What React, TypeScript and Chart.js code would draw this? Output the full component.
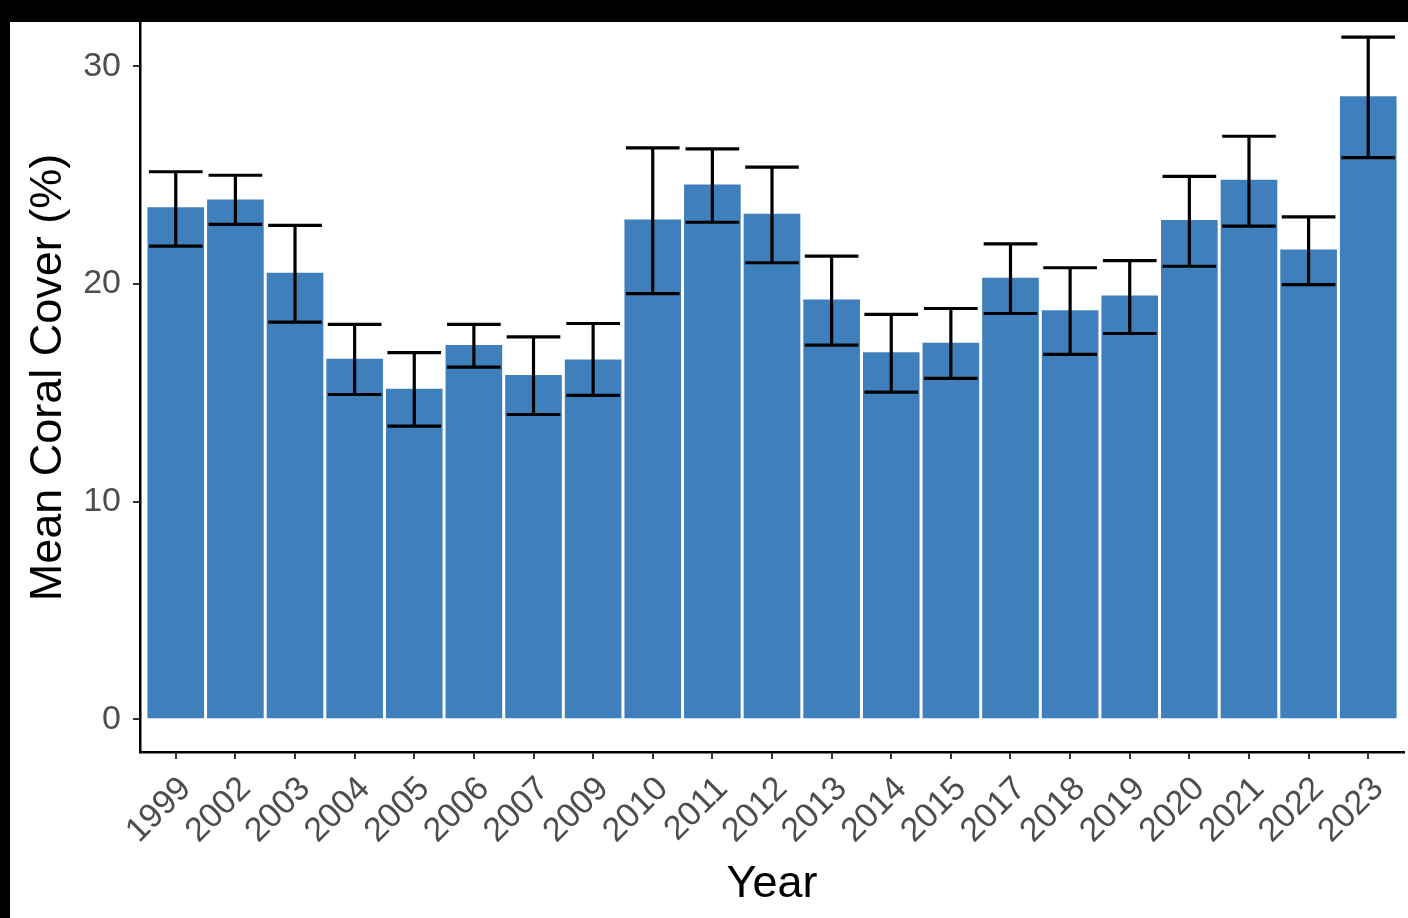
import { useEffect, useRef } from "react";
import { Chart, registerables } from "chart.js";

Chart.register(...registerables);

const years = [
  "1999", "2002", "2003", "2004", "2005", "2006", "2007", "2009", "2010", "2011",
  "2012", "2013", "2014", "2015", "2017", "2018", "2019", "2020", "2021", "2022", "2023",
];
const meanCover = [
  23.52, 23.88, 20.51, 16.56, 15.18, 17.19, 15.81, 16.53, 22.96, 24.56,
  23.22, 19.28, 16.86, 17.3, 20.28, 18.79, 19.47, 22.93, 24.78, 21.58, 28.62,
];
const lowerCI = [
  21.73, 22.73, 18.24, 14.92, 13.47, 16.18, 14.0, 14.88, 19.55, 22.83,
  20.97, 17.19, 15.03, 15.66, 18.64, 16.76, 17.72, 20.81, 22.65, 19.97, 25.8,
];
const upperCI = [
  25.15, 24.99, 22.69, 18.14, 16.84, 18.14, 17.57, 18.18, 26.25, 26.2,
  25.36, 21.27, 18.6, 18.87, 21.84, 20.74, 21.07, 24.94, 26.78, 23.08, 31.33,
];
const yTicks = [0, 10, 20, 30];

const FONT = "'Liberation Sans', Arial, Helvetica, sans-serif";

const errorBarPlugin = {
  id: "errorBars",
  afterDatasetsDraw(chart: any) {
    const { ctx } = chart;
    const x = chart.scales.x;
    const y = chart.scales.y;
    const half = x.getPixelForValue(0.45) - x.getPixelForValue(0);
    ctx.save();
    ctx.strokeStyle = "#000";
    ctx.lineWidth = 3.2;
    ctx.lineCap = "butt";
    years.forEach((_, i) => {
      const px = x.getPixelForValue(i);
      const yu = y.getPixelForValue(upperCI[i]);
      const yl = y.getPixelForValue(lowerCI[i]);
      ctx.beginPath();
      ctx.moveTo(px, yu);
      ctx.lineTo(px, yl);
      ctx.moveTo(px - half, yu);
      ctx.lineTo(px + half, yu);
      ctx.moveTo(px - half, yl);
      ctx.lineTo(px + half, yl);
      ctx.stroke();
    });
    ctx.restore();
  },
};

export default function App() {
  const canvasRef = useRef<HTMLCanvasElement | null>(null);

  useEffect(() => {
    if (!canvasRef.current) return;
    const chart = new Chart(canvasRef.current, {
      type: "bar",
      data: {
        datasets: [
          {
            label: "Mean Coral Cover",
            data: meanCover.map((v, i) => ({ x: i, y: v })),
            backgroundColor: "#3F80BC",
            borderWidth: 0,
            barPercentage: 0.95,
            categoryPercentage: 1,
          },
        ],
      },
      options: {
        animation: false,
        responsive: false,
        devicePixelRatio: 1,
        layout: { padding: { top: 3, right: 4, left: 0, bottom: 0 } },
        plugins: { legend: { display: false }, tooltip: { enabled: false } },
        scales: {
          x: {
            type: "linear",
            min: -0.6,
            max: 20.6,
            offset: false,
            grid: {
              offset: false,
              display: true,
              drawOnChartArea: false,
              drawTicks: true,
              tickLength: 7,
              tickColor: "#333",
              lineWidth: 2,
            },
            border: { display: true, color: "#000", width: 2.5 },
            afterBuildTicks: (axis: any) => {
              axis.ticks = years.map((_, i) => ({ value: i }));
            },
            afterFit: (axis: any) => {
              axis.height = 166;
              axis.paddingLeft = 0;
              axis.paddingRight = 0;
            },
            ticks: {
              autoSkip: false,
              minRotation: 45,
              maxRotation: 45,
              padding: 10,
              labelOffset: 10,
              color: "#4D4D4D",
              font: { family: FONT, size: 34 },
              callback: (v: any) => years[v as number] ?? "",
            },
            title: {
              display: true,
              text: "Year",
              color: "#000",
              font: { family: FONT, size: 45 },
              padding: { top: 0, bottom: 6 },
            },
          },
          y: {
            type: "linear",
            min: -1.5,
            max: 32.9,
            grid: {
              display: true,
              drawOnChartArea: false,
              drawTicks: true,
              tickLength: 7,
              tickColor: "#333",
              lineWidth: 2,
            },
            border: { display: true, color: "#000", width: 2.5 },
            afterBuildTicks: (axis: any) => {
              axis.ticks = yTicks.map((v) => ({ value: v }));
            },
            afterFit: (axis: any) => {
              axis.width = 140;
              axis.paddingTop = 0;
              axis.paddingBottom = 0;
            },
            ticks: {
              padding: 12,
              color: "#4D4D4D",
              font: { family: FONT, size: 34 },
            },
            title: {
              display: true,
              text: "Mean Coral Cover (%)",
              color: "#000",
              font: { family: FONT, size: 45 },
              padding: { top: 22, bottom: 0 },
            },
          },
        },
      },
      plugins: [errorBarPlugin],
    } as any);
    return () => chart.destroy();
  }, []);

  return (
    <div
      style={{
        position: "fixed",
        left: 0,
        top: 0,
        width: 1408,
        height: 918,
        background: "#fff",
        overflow: "hidden",
      }}
    >
      <canvas ref={canvasRef} width={1408} height={918} style={{ display: "block" }} />
      <div style={{ position: "absolute", left: 0, top: 0, width: 1408, height: 22, background: "#000" }} />
      <div style={{ position: "absolute", left: 0, top: 0, width: 10, height: 918, background: "#000" }} />
    </div>
  );
}
